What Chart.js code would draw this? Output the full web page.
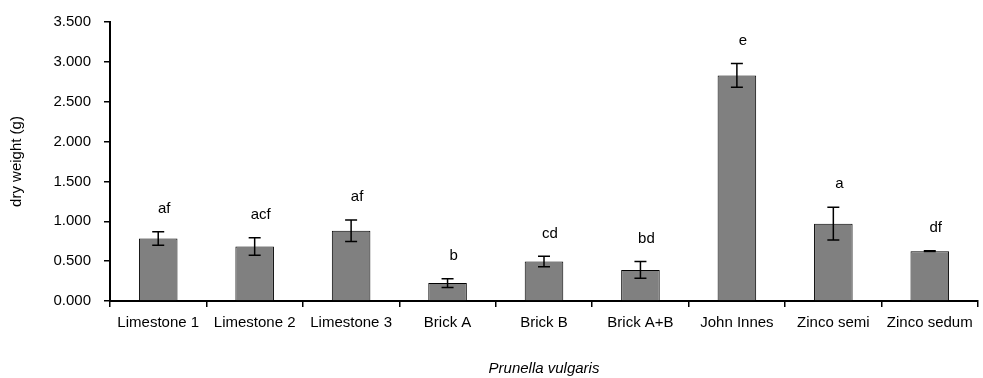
<!DOCTYPE html>
<html>
<head>
<meta charset="utf-8">
<script src="https://cdn.jsdelivr.net/npm/chart.js@4"></script>
<style>
  html, body { margin: 0; padding: 0; background: #fff; }
  #wrap { width: 983px; height: 378px; }
</style>
</head>
<body>
<div id="wrap"><canvas id="chart" width="983" height="378"></canvas></div>
<script>
// data
const categories = ["Limestone 1", "Limestone 2", "Limestone 3", "Brick A", "Brick B", "Brick A+B", "John Innes", "Zinco semi", "Zinco sedum"]
const dryWeight = [0.785, 0.685, 0.88, 0.225, 0.495, 0.39, 2.83, 0.97, 0.625]
const stdErr = [0.085, 0.11, 0.135, 0.055, 0.065, 0.105, 0.15, 0.205, 0.005]
const letters = ["af", "acf", "af", "b", "cd", "bd", "e", "a", "df"]
const yTicks = [0, 0.5, 1, 1.5, 2, 2.5, 3, 3.5]

const FONT = "'Liberation Sans', Arial, sans-serif"

// error bars + significance letters
const errorBars = {
  id: "errorBars",
  afterDatasetsDraw(chart) {
    const ctx = chart.ctx
    const meta = chart.getDatasetMeta(0)
    const y = chart.scales.y
    ctx.save()
    ctx.strokeStyle = "#000"
    ctx.lineWidth = 1.5
    meta.data.forEach((bar, i) => {
      let x = bar.x
      let top = y.getPixelForValue(dryWeight[i] + stdErr[i])
      let bot = y.getPixelForValue(dryWeight[i] - stdErr[i])
      ctx.beginPath()
      ctx.moveTo(x, top); ctx.lineTo(x, bot)
      ctx.moveTo(x - 6, top); ctx.lineTo(x + 6, top)
      ctx.moveTo(x - 6, bot); ctx.lineTo(x + 6, bot)
      ctx.stroke()

      ctx.fillStyle = "#000"
      ctx.font = "15px " + FONT
      ctx.textAlign = "center"
      ctx.textBaseline = "middle"
      ctx.fillText(letters[i], x + 6, top - 23)
    })
    ctx.restore()
  }
}

let chart = new Chart(document.getElementById("chart").getContext("2d"), {
  type: "bar",
  data: {
    labels: categories,
    datasets: [
      {
        data: dryWeight,
        backgroundColor: "#808080",
        borderColor: "#000",
        borderWidth: 1,
        barPercentage: 0.4,
        categoryPercentage: 1,
      },
    ],
  },
  options: {
    responsive: false,
    animation: false,
    layout: { padding: { left: 0, right: 5, top: 21, bottom: 0 } },
    plugins: {
      legend: { display: false },
      tooltip: { enabled: false },
    },
    scales: {
      x: {
        border: { color: "#000", width: 2 },
        grid: { drawOnChartArea: false, drawTicks: true, tickLength: 6, color: "#000", lineWidth: 1.5 },
        ticks: { color: "#000", font: { family: FONT, size: 15 }, padding: 7, maxRotation: 0, autoSkip: false },
        title: { display: true, text: "Prunella vulgaris", color: "#000", font: { family: FONT, size: 15, style: "italic" }, padding: { top: 0, bottom: 0 } },
        afterFit(scale) { scale.height = 77 },
      },
      y: {
        min: 0,
        max: 3.5,
        afterBuildTicks(scale) { scale.ticks = yTicks.map(v => ({ value: v })) },
        border: { color: "#000", width: 2 },
        grid: { drawOnChartArea: false, drawTicks: true, tickLength: 6, color: "#000", lineWidth: 1.5 },
        ticks: { color: "#000", font: { family: FONT, size: 15 }, padding: 13, callback: v => v.toFixed(3) },
        title: { display: true, text: "dry weight (g)", color: "#000", font: { family: FONT, size: 15 }, padding: { top: 8, bottom: 0 } },
        afterFit(scale) { scale.width = 110 },
      },
    },
  },
  plugins: [errorBars],
})
</script>
</body>
</html>
